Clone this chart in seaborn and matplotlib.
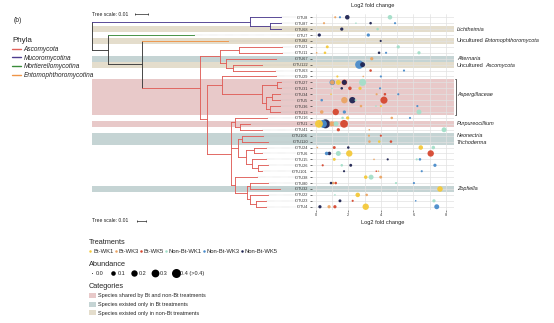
import numpy as np
import pandas as pd
import matplotlib
matplotlib.use("Agg")
import matplotlib.pyplot as plt
import matplotlib.transforms as mtransforms
from matplotlib.lines import Line2D
from matplotlib.patches import Patch
from matplotlib.collections import LineCollection
import seaborn as sns

# ---------------------------------------------------------------- data
otus = ["fOTU8", "fOTU87", "fOTU68", "fOTU7", "fOTU82", "fOTU21", "fOTU11",
        "fOTU67", "fOTU122", "fOTU63", "fOTU29", "fOTU27", "fOTU31", "fOTU34",
        "fOTU5", "fOTU36", "fOTU13", "fOTU16", "fOTU1", "fOTU41", "fOTU104",
        "fOTU120", "fOTU24", "fOTU6", "fOTU15", "fOTU26", "fOTU101", "fOTU38",
        "fOTU80", "fOTU32", "fOTU22", "fOTU23", "fOTU4"]

muco_otus = ["fOTU8", "fOTU87", "fOTU68"]
mort_otus = ["fOTU7"]
ento_otus = ["fOTU82"]

# sharing category of each OTU ("" = not highlighted)
otu_category = ["", "", "nonbt", "", "nonbt", "", "", "bt", "nonbt", "", "",
                "shared", "shared", "shared", "shared", "shared", "shared",
                "", "shared", "", "bt", "bt", "", "", "", "", "", "", "",
                "bt", "", "", ""]

taxon_otu = ["fOTU68", "fOTU82", "fOTU67", "fOTU122", "fOTU34", "fOTU1",
             "fOTU104", "fOTU120", "fOTU32"]
taxon_prefix = ["", "Uncultured", "", "Uncultured", "", "", "", "", ""]
taxon_name = ["Lichtheimia", "Entomophthoromycota", "Alternaria", "Ascomycota",
              "Aspergillaceae", "Purpureocillium", "Neonectria", "Trichoderma",
              "Zopfiella"]
bracket_otus = ["fOTU27", "fOTU13"]

# phylogeny (Newick, branch lengths in substitutions/site)
muco_clade = "(fOTU8:0.0238,(fOTU87:0.0085,fOTU68:0.0085):0.0154)"
e_clade = ("((fOTU21:0.0331,fOTU11:0.0331):0.0146,"
           "(fOTU67:0.0385,(fOTU122:0.0223,fOTU63:0.0323):0.0054):0.0046)")
asp_clade = ("((fOTU27:0.0031,fOTU31:0.0031):0.0115,((fOTU34:0.0062,fOTU5:0.0062):0.0046,"
             "(fOTU36:0.0077,fOTU13:0.0077):0.0031):0.0031)")
h_clade = f"(fOTU29:0.0415,{asp_clade}:0.0308)"
f_clade = ("((fOTU16:0.0246,(fOTU1:0.0077,fOTU41:0.0169):0.0038):0.0031,"
           "((fOTU104:0.0162,fOTU120:0.0200):0.0031,((fOTU24:0.0092,fOTU6:0.0062):0.0062,"
           "(fOTU15:0.0108,(fOTU26:0.0077,fOTU101:0.0031):0.0046):0.0046):0.0062):0.0054,"
           "(fOTU38:0.0169,((fOTU80:0.0138,fOTU32:0.0231):0.0023,"
           "(fOTU22:0.0138,(fOTU23:0.0077,fOTU4:0.0077):0.0046):0.0023):0.0092):0.0031)")
g_clade = f"({h_clade}:0.0115,{f_clade}:0.0185)"
asco_clade = f"({e_clade}:0.0154,{g_clade}:0.0054)"
newick = (f"({muco_clade}:0.1215,(fOTU7:0.0659,(fOTU82:0.0662,"
          f"{asco_clade}:0.0448):0.0257):0.0125);")

# log2 fold change per OTU and treatment, with relative abundance
treat_codes = ["B1", "B3", "B5", "N1", "N3", "N5"]
treat_labels = ["Bt-WK1", "Bt-WK3", "Bt-WK5", "Non-Bt-WK1", "Non-Bt-WK3", "Non-Bt-WK5"]

dot_otu = (["fOTU8"] * 4 + ["fOTU87"] * 4 + ["fOTU68"] * 2 + ["fOTU7"] * 2 +
           ["fOTU82"] * 1 + ["fOTU21"] * 2 + ["fOTU11"] * 5 + ["fOTU67"] * 1 +
           ["fOTU122"] * 2 + ["fOTU63"] * 2 + ["fOTU29"] * 3 + ["fOTU27"] * 6 +
           ["fOTU31"] * 5 + ["fOTU34"] * 4 + ["fOTU5"] * 5 + ["fOTU36"] * 4 +
           ["fOTU13"] * 4 + ["fOTU16"] * 4 + ["fOTU1"] * 6 + ["fOTU41"] * 3 +
           ["fOTU104"] * 2 + ["fOTU120"] * 3 + ["fOTU24"] * 5 + ["fOTU6"] * 5 +
           ["fOTU15"] * 5 + ["fOTU26"] * 4 + ["fOTU101"] * 4 + ["fOTU38"] * 3 +
           ["fOTU80"] * 5 + ["fOTU32"] * 1 + ["fOTU22"] * 3 + ["fOTU23"] * 4 +
           ["fOTU4"] * 5)
dot_trt = ["B3", "N3", "N5", "N1",   "B3", "N1", "N5", "N3",   "N5", "N1",
           "N5", "N3",   "N5",   "B1", "N1",   "B3", "B1", "N5", "N3", "N1",
           "B3",   "N3", "N5",   "B5", "N3",   "B1", "B3", "N3",
           "N3", "B3", "B1", "B5", "N5", "N1",   "N1", "N5", "B5", "B1", "N3",
           "B1", "B3", "B5", "N3",   "N3", "B3", "N5", "N1", "B5",
           "B3", "N1", "B1", "N3",   "B3", "B5", "N3", "N1",
           "N1", "B1", "B3", "N3",   "B1", "N3", "N5", "B3", "N1", "B5",
           "B5", "B3", "N1",   "B3", "B5",   "B3", "B1", "B5",
           "B3", "B5", "N5", "B1", "N1",   "N3", "N5", "N1", "B1", "B5",
           "B1", "B3", "N5", "N1", "N3",   "B5", "N1", "N5", "N3",
           "N5", "B5", "B3", "N3",   "B1", "N1", "B3",
           "N5", "B3", "B5", "N1", "N3",   "B1",   "N1", "B1", "B3",
           "N5", "B5", "N3", "N1",   "N5", "B3", "B5", "B1", "N3"]
dot_lfc = [1.20, 1.49, 1.94, 4.56,   0.51, 2.47, 3.37, 4.87,   1.60, 3.80,
           0.22, 3.23,   3.99,   0.71, 5.07,   0.06, 0.57, 3.89, 4.32, 6.34,
           3.44,   2.68, 2.88,   3.37, 5.42,   1.33, 2.92, 4.00,
           1.02, 1.02, 1.39, 1.76, 1.76, 2.88,   1.00, 1.60, 2.10, 2.72, 3.95,
           0.94, 3.74, 4.25, 5.07,   0.37, 1.76, 2.25, 2.45, 4.19,
           2.78, 3.70, 4.00, 6.24,   0.37, 1.23, 1.76, 6.34,
           1.65, 1.96, 4.67, 5.79,   0.20, 0.45, 0.60, 1.00, 1.25, 1.74,
           1.39, 3.29, 7.88,   3.27, 4.00,   3.30, 3.90, 4.62,
           0.10, 1.14, 2.00, 6.45, 7.22,   0.67, 0.84, 1.39, 2.06, 7.06,
           1.14, 3.58, 4.42, 6.20, 6.40,   0.43, 1.60, 2.15, 7.32,
           1.74, 3.72, 3.85, 6.51,   3.07, 3.40, 3.99,
           0.94, 1.08, 1.23, 4.93, 6.03,   7.63,   1.18, 2.58, 3.13,
           1.49, 2.27, 6.14, 7.26,   0.26, 0.82, 1.18, 3.07, 7.43]
dot_abund = [0.02, 0.02, 0.10, 0.10,   0.02, 0.01, 0.03, 0.02,   0.05, 0.03,
             0.05, 0.05,   0.02,   0.04, 0.05,   0.01, 0.03, 0.03, 0.02, 0.05,
             0.05,   0.35, 0.12,   0.03, 0.02,   0.02, 0.01, 0.02,
             0.15, 0.10, 0.12, 0.15, 0.12, 0.25,   0.01, 0.03, 0.06, 0.05, 0.02,
             0.01, 0.02, 0.03, 0.02,   0.03, 0.20, 0.20, 0.02, 0.25,
             0.03, 0.01, 0.02, 0.02,   0.06, 0.20, 0.05, 0.12,
             0.03, 0.05, 0.03, 0.02,   0.30, 0.30, 0.50, 0.12, 0.12, 0.30,
             0.05, 0.01, 0.12,   0.02, 0.02,   0.03, 0.03, 0.03,
             0.01, 0.04, 0.03, 0.10, 0.06,   0.06, 0.06, 0.12, 0.20, 0.20,
             0.04, 0.01, 0.02, 0.02, 0.03,   0.02, 0.03, 0.04, 0.05,
             0.02, 0.01, 0.01, 0.02,   0.06, 0.12, 0.04,
             0.03, 0.03, 0.03, 0.02, 0.02,   0.15,   0.01, 0.10, 0.03,
             0.04, 0.02, 0.01, 0.05,   0.05, 0.05, 0.05, 0.20, 0.12]

abund_breaks = [0.0, 0.1, 0.2, 0.3, 0.4]
abund_labels = ["0.0", "0.1", "0.2", "0.3", "0.4 (>0.4)"]

# ---------------------------------------------------------------- styling
sns.set_style("white")
plt.rcParams["font.family"] = ["Liberation Sans", "DejaVu Sans"]

treat_palette = dict(zip(treat_codes, ["#f4c93a", "#eba564", "#d6472f",
                                       "#a4dfc9", "#4a8ccb", "#1f2452"]))
phylum_colors = {"Ascomycota": "#e0605a", "Mucoromycotina": "#4e3d8f",
                 "Mortierellomycotina": "#3a8c3a",
                 "Entomophthoromycotina": "#ef9548"}
stem_color = "#3a3a3a"
cat_colors = {"shared": "#e8c9c9", "bt": "#c5d4d4", "nonbt": "#e4ddcc"}
cat_labels = {"shared": "Species shared by Bt and non-Bt treatments",
              "bt": "Species existed only in Bt treatments",
              "nonbt": "Species existed only in non-Bt treatments"}

row_of = {o: i for i, o in enumerate(otus)}
phylum_of = {o: ("Mucoromycotina" if o in muco_otus else
                 "Mortierellomycotina" if o in mort_otus else
                 "Entomophthoromycotina" if o in ento_otus else "Ascomycota")
             for o in otus}

# ---------------------------------------------------------------- figure
W, H = 554, 323
fig = plt.figure(figsize=(W / 100, H / 100), dpi=100)
fig.patch.set_facecolor("white")

top_px, bot_px = 14.3, 209.7
ax_tree = fig.add_axes([92 / W, 1 - bot_px / H, (312 - 92) / W, (bot_px - top_px) / H])
ax_dot = fig.add_axes([312 / W, 1 - bot_px / H, (454 - 312) / W, (bot_px - top_px) / H],
                      sharey=ax_tree)
ax_tree.set_zorder(0)
ax_dot.set_zorder(1)
ax_tree.patch.set_alpha(0)
ax_dot.patch.set_alpha(0)

n = len(otus)
ax_dot.set_ylim(n - 0.5, -0.5)
ax_tree.set_xlim(0, 220 / 1300)
ax_dot.set_xlim(-0.227, 8.49)


# --- highlighted categories as bands across tree and dot panel
def runs(cat):
    idx = [i for i, c in enumerate(otu_category) if c == cat]
    out = []
    for i in idx:
        if out and out[-1][1] == i - 1:
            out[-1][1] = i
        else:
            out.append([i, i])
    return out


for cat, col in cat_colors.items():
    for r0, r1 in runs(cat):
        for ax in (ax_tree, ax_dot):
            ax.axhspan(r0 - 0.5, r1 + 0.5, color=col, lw=0, zorder=0.2)


# --- phylogenetic tree
def parse_newick(s):
    pos = 0

    def node():
        nonlocal pos
        children = []
        if s[pos] == "(":
            pos += 1
            while True:
                children.append(node())
                if s[pos] == ",":
                    pos += 1
                    continue
                pos += 1
                break
        start = pos
        while s[pos] not in ",);":
            pos += 1
        token = s[start:pos]
        if ":" in token:
            name, length = token.split(":")
            length = float(length)
        else:
            name, length = token, 0.0
        return {"name": name, "length": length, "children": children}

    return node()


def layout(nd, x_parent):
    nd["x0"] = x_parent
    nd["x"] = x_parent + nd["length"]
    if nd["children"]:
        for c in nd["children"]:
            layout(c, nd["x"])
        nd["y"] = (nd["children"][0]["y"] + nd["children"][-1]["y"]) / 2
        nd["tips"] = sum((c["tips"] for c in nd["children"]), [])
    else:
        nd["y"] = row_of[nd["name"]]
        nd["tips"] = [nd["name"]]
    phyla = {phylum_of[t] for t in nd["tips"]}
    nd["color"] = phylum_colors[phyla.pop()] if len(phyla) == 1 else stem_color


root = parse_newick(newick)
layout(root, 0.0)

segs, cols, tip_segs = [], [], []
label_x = (296 - 92) / 1300


def collect(nd, is_root=False):
    if not is_root:
        segs.append([(nd["x0"], nd["y"]), (nd["x"], nd["y"])])
        cols.append(nd["color"])
    if nd["children"]:
        segs.append([(nd["x"], nd["children"][0]["y"]), (nd["x"], nd["children"][-1]["y"])])
        cols.append(nd["color"])
        for c in nd["children"]:
            collect(c)
    else:
        tip_segs.append([(nd["x"], nd["y"]), (label_x, nd["y"])])


collect(root, is_root=True)
ax_tree.add_collection(LineCollection(tip_segs, colors="#bdbdbd", linewidths=0.35,
                                      linestyles=(0, (1, 1.2)), zorder=1))
ax_tree.add_collection(LineCollection(segs, colors=cols, linewidths=0.65,
                                      capstyle="projecting", zorder=2))
ax_tree.axis("off")

# --- dot plot
dots = pd.DataFrame({"otu": dot_otu, "treatment": dot_trt, "lfc": dot_lfc,
                     "abund": dot_abund})
dots["row"] = dots["otu"].map(row_of)
dots["size"] = dots["abund"].clip(upper=0.4)
dots = dots.sort_values("abund", ascending=False)

size_range = (0.3, 42)
sns.scatterplot(data=dots, x="lfc", y="row", hue="treatment", hue_order=treat_codes,
                palette=treat_palette, size="size", sizes=size_range,
                size_norm=(0, 0.4), linewidth=0, alpha=0.95, legend=False,
                ax=ax_dot, zorder=3)

ax_dot.set_xticks(range(0, 9, 2))
ax_dot.set_xticks(range(1, 9, 2), minor=True)
ax_dot.set_yticks(range(n))
ax_dot.set_yticklabels(otus)
ax_dot.grid(True, axis="x", which="both", color="#e2e2e2", lw=0.5, zorder=0.5)
ax_dot.grid(True, axis="y", which="major", color="#e2e2e2", lw=0.5, zorder=0.5)
ax_dot.set_axisbelow(False)
for gl in ax_dot.get_xgridlines() + ax_dot.get_ygridlines():
    gl.set_zorder(0.5)
for sp in ax_dot.spines.values():
    sp.set_visible(False)
ax_dot.tick_params(axis="y", left=True, length=1.6, width=0.5, color="#333333",
                   labelsize=2.8, pad=1.2, labelcolor="#333333")
ax_dot.tick_params(axis="x", bottom=True, length=1.4, width=0.4, color="#333333",
                   labelsize=2.8, pad=1.0, labelcolor="#333333")
ax_dot.tick_params(axis="x", which="minor", bottom=False)
ax_dot.set_xlabel("Log2 fold change", fontsize=4.1, labelpad=2.2, color="#222222")
ax_dot.set_ylabel("")
top_tf = mtransforms.blended_transform_factory(ax_dot.transData, fig.transFigure)
ax_dot.text(3.5, 1 - 5.7 / H, "Log2 fold change", transform=top_tf, fontsize=4.1,
            ha="center", va="center", color="#222222")

# --- taxon annotations on the right (labels on neighbouring rows nudged apart)
label_rows = {row_of[o] for o in taxon_otu}
for o, pre, name in zip(taxon_otu, taxon_prefix, taxon_name):
    r = row_of[o]
    dy = (0.1 if (r - 1) in label_rows else 0.0) - (0.1 if (r + 1) in label_rows else 0.0)
    if pre:
        t = ax_dot.text(8.67, r + dy, pre, fontsize=4.0, va="center", ha="left",
                        clip_on=False, color="#222222")
        ax_dot.annotate(name, xy=(1, 0.5), xycoords=t, xytext=(0.8, 0),
                        textcoords="offset points", fontsize=4.0, fontstyle="italic",
                        va="center", ha="left", color="#222222", annotation_clip=False)
    else:
        ax_dot.text(8.67, r + dy, name, fontsize=4.0, fontstyle="italic", va="center",
                    ha="left", clip_on=False, color="#222222")
b0, b1 = row_of[bracket_otus[0]] - 0.5, row_of[bracket_otus[1]] + 0.5
ax_dot.plot([8.53, 8.62, 8.62, 8.53], [b0, b0, b1, b1], color="#222222", lw=0.5,
            clip_on=False, zorder=4)

# --- tree scale bars
scale_tf = mtransforms.blended_transform_factory(ax_tree.transData, fig.transFigure)
fig.text(92 / W, 1 - 14 / H, "Tree scale: 0.01", fontsize=3.6, va="center", ha="left",
         color="#222222")
sx = (135 - 92) / 1300
ax_tree.plot([sx, sx + 0.01], [1 - 14 / H] * 2, transform=scale_tf, color="#222222",
             lw=0.5, marker="|", markersize=2, markeredgewidth=0.5, clip_on=False)
fig.text(92 / W, 1 - 221 / H, "Tree scale: 0.01", fontsize=3.6, va="center", ha="left",
         color="#222222")
fig.add_artist(Line2D([137 / W, 146 / W], [1 - 221 / H] * 2, color="#222222", lw=0.5,
                      marker="|", markersize=2, markeredgewidth=0.5))

fig.text(14 / W, 1 - 21 / H, "(b)", fontsize=4.8, va="center", ha="left", color="#222222")

# --- legends
phyla_handles = [Line2D([], [], color=c, lw=1.0) for c in phylum_colors.values()]
fig.legend(phyla_handles, list(phylum_colors.keys()), loc="upper left",
           bbox_to_anchor=(12 / W, 1 - 37 / H), frameon=False, title="Phyla",
           alignment="left", prop={"size": 4.7, "style": "italic"},
           title_fontsize=5.8, handlelength=1.4, handletextpad=0.35,
           labelspacing=0.28, borderpad=0, borderaxespad=0)

treat_handles = [Line2D([], [], ls="", marker="o", markersize=1.8, markeredgewidth=0,
                        color=treat_palette[c]) for c in treat_codes]
fig.legend(treat_handles, treat_labels, loc="upper left",
           bbox_to_anchor=(89 / W, 1 - 239 / H), frameon=False, title="Treatments",
           alignment="left", ncol=6, fontsize=4.2, title_fontsize=5.3,
           handlelength=0.5, handletextpad=0.2, columnspacing=0.15,
           borderpad=0, borderaxespad=0)

smin, smax = size_range
abund_handles = [Line2D([], [], ls="", marker="o", color="black", markeredgewidth=0,
                        markersize=np.sqrt(smin + (smax - smin) * b / 0.4))
                 for b in abund_breaks]
fig.legend(abund_handles, abund_labels, loc="upper left",
           bbox_to_anchor=(89 / W, 1 - 261 / H), frameon=False, title="Abundance",
           alignment="left", ncol=5, fontsize=4.0, title_fontsize=5.3,
           handlelength=1.0, handletextpad=0.3, columnspacing=1.1,
           borderpad=0, borderaxespad=0)

cat_handles = [Patch(facecolor=cat_colors[k], edgecolor="none") for k in cat_colors]
fig.legend(cat_handles, [cat_labels[k] for k in cat_colors], loc="upper left",
           bbox_to_anchor=(89 / W, 1 - 282.5 / H), frameon=False, title="Categories",
           alignment="left", fontsize=4.0, title_fontsize=5.3,
           handlelength=1.2, handleheight=1.0, handletextpad=0.5, labelspacing=0.6,
           borderpad=0, borderaxespad=0)

fig.savefig("out.png", dpi=100, facecolor="white")
